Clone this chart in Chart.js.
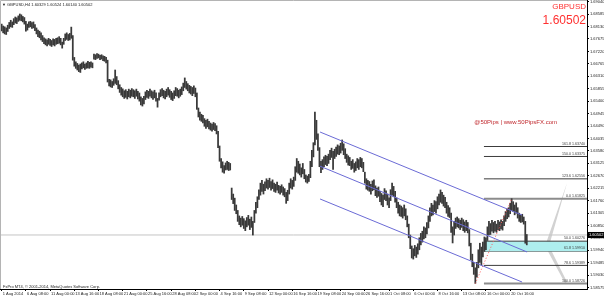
<!DOCTYPE html>
<html><head><meta charset="utf-8">
<script src="https://cdn.jsdelivr.net/npm/chart.js@4.4.1/dist/chart.umd.min.js"></script>
<style>html,body{margin:0;padding:0;background:#fff;overflow:hidden}canvas{display:block}</style>
</head><body>
<canvas id="c" width="604" height="297" style="width:604px;height:297px"></canvas>
<script>
// ---------- data ----------
const symbol = 'GBPUSD';
const timeframe = 'H4';
const lastOHLC = [1.60329, 1.60524, 1.60140, 1.60502];
const bid = 1.60502;

const xTickBars = [0,16,32,48,64,80,96,112,128,144,160,176,192,208,224,240,256,272,288,304,320,336];
const xTickLabels = ['1 Aug 2014','6 Aug 08:00','11 Aug 00:00','13 Aug 16:00','18 Aug 08:00','21 Aug 00:00','25 Aug 16:00','28 Aug 08:00','2 Sep 00:00','4 Sep 16:00','9 Sep 08:00','12 Sep 00:00','16 Sep 16:00','19 Sep 08:00','24 Sep 00:00','26 Sep 16:00','1 Oct 08:00','6 Oct 00:00','8 Oct 16:00','13 Oct 08:00','16 Oct 00:00','20 Oct 16:00'];

const yTicks = [1.69040,1.68585,1.68130,1.67675,1.67220,1.66765,1.66310,1.65855,1.65400,1.64945,1.64490,1.64035,1.63580,1.63125,1.62670,1.62215,1.61760,1.61305,1.60850,1.60395,1.59940,1.59485,1.59030,1.58575];
const yRange = [1.58525, 1.69102];
const xRange = [-1.1, 386.8];

const highs = [
1.6822,1.6815,1.6812,1.6808,1.6818,1.6828,1.6836,1.6830,1.6842,1.6848,
1.6845,1.6852,1.6859,1.6856,1.6850,1.6846,1.6832,1.6822,1.6830,1.6832,
1.6828,1.6830,1.6820,1.6808,1.6800,1.6796,1.6790,1.6780,1.6772,1.6768,
1.6764,1.6770,1.6766,1.6762,1.6768,1.6766,1.6770,1.6772,1.6776,1.6770,
1.6756,1.6770,1.6786,1.6790,1.6784,1.6788,1.6811,1.6780,1.6700,1.6684,
1.6678,1.6672,1.6676,1.6680,1.6684,1.6676,1.6680,1.6686,1.6682,1.6684,
1.6680,1.6712,1.6710,1.6714,1.6712,1.6708,1.6710,1.6706,1.6704,1.6700,
1.6690,1.6620,1.6618,1.6612,1.6622,1.6654,1.6630,1.6615,1.6600,1.6590,
1.6585,1.6578,1.6582,1.6576,1.6584,1.6580,1.6586,1.6582,1.6578,1.6584,
1.6576,1.6570,1.6556,1.6550,1.6558,1.6574,1.6580,1.6576,1.6584,1.6578,
1.6574,1.6580,1.6570,1.6550,1.6570,1.6582,1.6586,1.6580,1.6576,1.6584,
1.6590,1.6582,1.6576,1.6570,1.6578,1.6590,1.6586,1.6580,1.6584,1.6592,
1.6606,1.6625,1.6612,1.6604,1.6598,1.6594,1.6590,1.6596,1.6588,1.6570,
1.6515,1.6500,1.6492,1.6488,1.6476,1.6470,1.6474,1.6466,1.6460,1.6456,
1.6462,1.6458,1.6450,1.6430,1.6376,1.6330,1.6318,1.6304,1.6314,1.6320,
1.6316,1.6312,1.6222,1.6200,1.6185,1.6160,1.6140,1.6120,1.6112,1.6118,
1.6110,1.6102,1.6114,1.6122,1.6108,1.6116,1.6100,1.6140,1.6170,1.6190,
1.6215,1.6240,1.6250,1.6236,1.6245,1.6256,1.6250,1.6258,1.6246,1.6252,
1.6240,1.6236,1.6244,1.6232,1.6228,1.6234,1.6226,1.6220,1.6206,1.6214,
1.6240,1.6256,1.6250,1.6262,1.6300,1.6330,1.6320,1.6310,1.6296,1.6312,
1.6290,1.6270,1.6266,1.6272,1.6320,1.6360,1.6388,1.6500,1.6470,1.6420,
1.6370,1.6320,1.6326,1.6336,1.6342,1.6338,1.6346,1.6360,1.6368,1.6356,
1.6364,1.6372,1.6380,1.6376,1.6386,1.6398,1.6384,1.6366,1.6346,1.6340,
1.6334,1.6320,1.6326,1.6312,1.6318,1.6330,1.6326,1.6334,1.6330,1.6316,
1.6280,1.6256,1.6250,1.6246,1.6236,1.6248,1.6252,1.6230,1.6222,1.6226,
1.6210,1.6202,1.6196,1.6220,1.6212,1.6200,1.6186,1.6216,1.6240,1.6228,
1.6210,1.6186,1.6170,1.6160,1.6156,1.6150,1.6160,1.6146,1.6120,1.6090,
1.6050,1.6010,1.6000,1.6012,1.6006,1.6018,1.6040,1.6056,1.6064,1.6080,
1.6076,1.6096,1.6120,1.6150,1.6166,1.6160,1.6176,1.6172,1.6190,1.6200,
1.6215,1.6206,1.6196,1.6188,1.6170,1.6158,1.6150,1.6130,1.6080,1.6100,
1.6112,1.6116,1.6110,1.6104,1.6112,1.6106,1.6098,1.6104,1.6096,1.6070,
1.6020,1.5980,1.5950,1.5930,1.5950,1.5996,1.6020,1.6006,1.6024,1.6043,
1.6040,1.6080,1.6100,1.6092,1.6104,1.6096,1.6100,1.6090,1.6104,1.6098,
1.6106,1.6100,1.6120,1.6136,1.6146,1.6150,1.6166,1.6183,1.6172,1.6160,
1.6168,1.6150,1.6130,1.6122,1.6126,1.6116,1.6100,1.6052];

const lows = [
1.6797,1.6790,1.6786,1.6784,1.6795,1.6806,1.6812,1.6810,1.6820,1.6826,
1.6824,1.6832,1.6836,1.6834,1.6830,1.6822,1.6796,1.6800,1.6810,1.6812,
1.6806,1.6808,1.6798,1.6786,1.6776,1.6772,1.6764,1.6758,1.6750,1.6746,
1.6742,1.6748,1.6744,1.6740,1.6746,1.6742,1.6748,1.6750,1.6752,1.6746,
1.6734,1.6748,1.6762,1.6766,1.6762,1.6764,1.6770,1.6690,1.6668,1.6660,
1.6654,1.6648,1.6645,1.6658,1.6662,1.6656,1.6660,1.6662,1.6660,1.6664,
1.6662,1.6694,1.6692,1.6696,1.6698,1.6692,1.6694,1.6688,1.6686,1.6680,
1.6610,1.6596,1.6592,1.6590,1.6598,1.6605,1.6600,1.6585,1.6572,1.6562,
1.6556,1.6550,1.6554,1.6548,1.6556,1.6552,1.6558,1.6556,1.6550,1.6558,
1.6548,1.6540,1.6526,1.6522,1.6530,1.6546,1.6554,1.6550,1.6558,1.6552,
1.6546,1.6552,1.6540,1.6518,1.6544,1.6556,1.6560,1.6552,1.6548,1.6556,
1.6562,1.6554,1.6546,1.6542,1.6550,1.6560,1.6558,1.6552,1.6558,1.6564,
1.6578,1.6590,1.6584,1.6578,1.6570,1.6566,1.6560,1.6568,1.6556,1.6510,
1.6482,1.6470,1.6466,1.6460,1.6448,1.6440,1.6446,1.6438,1.6434,1.6430,
1.6436,1.6432,1.6420,1.6370,1.6320,1.6296,1.6280,1.6276,1.6288,1.6290,
1.6286,1.6288,1.6180,1.6165,1.6140,1.6128,1.6100,1.6088,1.6080,1.6086,
1.6074,1.6066,1.6080,1.6086,1.6070,1.6078,1.6050,1.6096,1.6130,1.6150,
1.6180,1.6196,1.6210,1.6200,1.6212,1.6222,1.6218,1.6224,1.6214,1.6220,
1.6210,1.6206,1.6214,1.6204,1.6200,1.6206,1.6196,1.6190,1.6166,1.6176,
1.6200,1.6222,1.6218,1.6228,1.6250,1.6280,1.6276,1.6270,1.6262,1.6274,
1.6256,1.6244,1.6240,1.6246,1.6260,1.6300,1.6336,1.6380,1.6400,1.6360,
1.6300,1.6278,1.6290,1.6300,1.6308,1.6304,1.6312,1.6326,1.6334,1.6290,
1.6330,1.6338,1.6346,1.6344,1.6350,1.6360,1.6344,1.6330,1.6316,1.6306,
1.6304,1.6290,1.6294,1.6280,1.6286,1.6296,1.6290,1.6300,1.6296,1.6282,
1.6240,1.6218,1.6214,1.6210,1.6200,1.6212,1.6216,1.6194,1.6188,1.6192,
1.6172,1.6160,1.6154,1.6180,1.6176,1.6160,1.6150,1.6176,1.6196,1.6190,
1.6170,1.6150,1.6130,1.6120,1.6118,1.6112,1.6120,1.6106,1.6080,1.6040,
1.6000,1.5966,1.5962,1.5974,1.5968,1.5980,1.5996,1.6014,1.6024,1.6036,
1.6040,1.6054,1.6076,1.6100,1.6120,1.6124,1.6136,1.6130,1.6146,1.6160,
1.6170,1.6166,1.6156,1.6150,1.6130,1.6118,1.6114,1.6060,1.6021,1.6050,
1.6074,1.6080,1.6076,1.6070,1.6078,1.6066,1.6060,1.6066,1.6058,1.6010,
1.5960,1.5934,1.5906,1.5873,1.5896,1.5930,1.5950,1.5940,1.5970,1.5990,
1.5996,1.6030,1.6050,1.6052,1.6064,1.6058,1.6064,1.6060,1.6070,1.6066,
1.6072,1.6068,1.6084,1.6100,1.6110,1.6116,1.6128,1.6140,1.6136,1.6124,
1.6130,1.6112,1.6100,1.6096,1.6098,1.6090,1.6020,1.6014];

// channel lines: [barStart, priceStart, barEnd, priceEnd]
const channelUpper = [210.4, 1.6427, 343.9, 1.6123];
const channelMid   = [210.4, 1.6302, 347.2, 1.5988];
const channelLower = [210.4, 1.6182, 343.9, 1.5878];
// fibonacci object
const fibAnchor = [313, 1.58726, 337, 1.61825];  // low bar/price, high bar/price
const fibStartBar = 318.7;
const fibLevels = ['161.8','150.0','123.6','0.0','50.0','61.8','78.6','100.0'];
const fibPrices = [1.63740, 1.63375, 1.62556, 1.61825, 1.60276, 1.59910, 1.59389, 1.58726];
// grey chevron object (bar, price)
const wedgeBars   = [373.6, 359.1, 372.3, 373.6, 361.7, 373.6];
const wedgePrices = [1.6240, 1.6010, 1.5874, 1.5878, 1.6010, 1.6240];

// ---------- chart ----------
const FONT = "'Liberation Sans', Arial, sans-serif";
const seg = a => [{x:a[0], y:a[1]}, {x:a[2], y:a[3]}];
const lineDs = (data, color, width, order, extra) => Object.assign({
  type:'line', data, borderColor:color, borderWidth:width, pointRadius:0, fill:false, order, tension:0
}, extra || {});

const datasets = [];
datasets.push(lineDs([{x:xRange[0], y:bid},{x:xRange[1], y:bid}], '#c4c4c4', 1, 9));
datasets.push(lineDs(wedgeBars.map((b,i)=>({x:b, y:wedgePrices[i]})), 'rgba(0,0,0,0)', 0, 9,
  {fill:'shape', backgroundColor:'#d2d2d2'}));
const fibStyle = lv => (lv === '0.0' || lv === '100.0') ? ['#8c8c8c', 2] : ['#3c3c3c', 1];
fibLevels.forEach((lv, i) => {
  const st = fibStyle(lv);
  const ex = lv === '50.0' ? {fill:'+1', backgroundColor:'#aeeeee'} : {};
  datasets.push(lineDs([{x:fibStartBar, y:fibPrices[i]},{x:xRange[1], y:fibPrices[i]}], st[0], st[1], 7, ex));
});
datasets.push({
  type:'bar', order:5,
  data: highs.map((h,i)=>({x:i, y:[lows[i], h]})),
  backgroundColor:'#3a3a3a', borderWidth:0, barThickness:1.1, grouped:false
});
datasets.push(lineDs(seg(channelUpper), '#6b6bd6', 1, 1));
datasets.push(lineDs(seg(channelMid), '#6b6bd6', 1, 1));
datasets.push(lineDs(seg(channelLower), '#6b6bd6', 1, 1));
datasets.push(lineDs(seg(fibAnchor), '#ff5a5a', 1, 1, {borderDash:[1,2]}));

const overlay = {
  id:'overlay',
  beforeDraw(chart){
    const c = chart.ctx; c.save(); c.fillStyle='#fff'; c.fillRect(0,0,chart.width,chart.height); c.restore();
  },
  afterDraw(chart){
    const c = chart.ctx, a = chart.chartArea, y = chart.scales.y;
    c.save();
    // frame
    c.strokeStyle='#b4b4b4'; c.lineWidth=1;
    c.beginPath(); c.moveTo(0.5, a.bottom); c.lineTo(0.5,0.5); c.lineTo(a.right,0.5); c.stroke();
    // fib labels
    c.font = `3.6px ${FONT}`; c.fillStyle='#3a3a3a'; c.textAlign='right'; c.textBaseline='bottom';
    fibLevels.forEach((lv,i)=>{
      const py = y.getPixelForValue(fibPrices[i]);
      c.fillText(lv + ' ' + fibPrices[i].toFixed(5), a.right-2, py-1);
    });
    // bid box
    const by = y.getPixelForValue(bid);
    c.fillStyle='#000'; c.fillRect(a.right, by-3, chart.width-a.right, 6);
    c.fillStyle='#fff'; c.font=`4px ${FONT}`; c.textAlign='left'; c.textBaseline='middle';
    c.fillText(bid.toFixed(5), a.right+2, by+0.3);
    // header
    c.fillStyle='#222'; c.font=`4px ${FONT}`; c.textAlign='left'; c.textBaseline='middle';
    c.fillText('\u25BC ' + symbol + ',' + timeframe + ' ' + lastOHLC.map(v=>v.toFixed(5)).join(' '), 2, 4.5);
    // symbol / price
    c.fillStyle='#ff3030'; c.textAlign='right'; c.textBaseline='alphabetic';
    c.font=`8px ${FONT}`; c.fillText(symbol, a.right-1, 8.5);
    c.font=`12px ${FONT}`; c.fillText(bid.toFixed(5), a.right-1, 24);
    // watermark
    c.fillStyle='#c0282d'; c.font=`6px ${FONT}`;
    c.fillText('@50Pips | www.50PipsFX.com', 557, 124);
    // copyright
    c.fillStyle='#222'; c.font=`4px ${FONT}`; c.textAlign='left'; c.textBaseline='bottom';
    c.fillText('FxPro MT4, \u00A9 2001-2014, MetaQuotes Software Corp.', 3, a.bottom-0.5);
    c.restore();
  }
};

new Chart(document.getElementById('c'), {
  type:'bar',
  data:{datasets},
  plugins:[overlay],
  options:{
    responsive:false, maintainAspectRatio:false, animation:false, devicePixelRatio:1,
    layout:{padding:0},
    plugins:{legend:{display:false}, tooltip:{enabled:false}},
    scales:{
      x:{type:'linear', min:xRange[0], max:xRange[1], offset:false,
        grid:{drawOnChartArea:false, tickLength:2, color:'#000', offset:false},
        border:{display:true, color:'#000'},
        ticks:{autoSkip:false, maxRotation:0, minRotation:0, align:'start', padding:0, labelOffset:1,
          font:{size:4, family:FONT}, color:'#222', callback:(v,i)=>xTickLabels[i]},
        afterBuildTicks:s=>{ s.ticks = xTickBars.map(v=>({value:v})); },
        afterFit:s=>{ s.height = 8; s.paddingLeft = 0; s.paddingRight = 0; }
      },
      y:{position:'right', min:yRange[0], max:yRange[1],
        grid:{drawOnChartArea:false, tickLength:2, color:'#000'},
        border:{display:true, color:'#000'},
        ticks:{autoSkip:false, padding:1, crossAlign:'near', font:{size:4, family:FONT}, color:'#222',
          callback:(v,i)=>yTicks[i].toFixed(5)},
        afterBuildTicks:s=>{ s.ticks = yTicks.map(v=>({value:v})); },
        afterFit:s=>{ s.width = 17; s.paddingTop = 0; s.paddingBottom = 0; }
      }
    }
  }
});
</script>
</body></html>
